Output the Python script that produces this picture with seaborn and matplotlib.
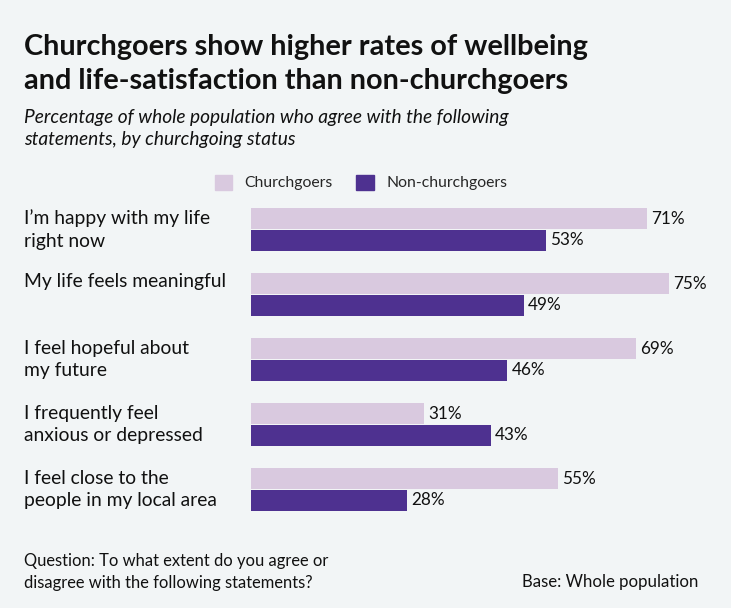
import pandas as pd
import matplotlib.pyplot as plt
import seaborn as sns
from matplotlib.transforms import blended_transform_factory

sns.set_theme(style="white")
plt.rcParams['font.family'] = ['Lato', 'DejaVu Sans']

# data
statements = [
    "I\u2019m happy with my life\nright now",
    "My life feels meaningful",
    "I feel hopeful about\nmy future",
    "I frequently feel\nanxious or depressed",
    "I feel close to the\npeople in my local area",
]
churchgoers = [71, 75, 69, 31, 55]
non_churchgoers = [53, 49, 46, 43, 28]
groups = ["Churchgoers", "Non-churchgoers"]

BG = "#f2f5f6"
LIGHT = "#d9c9df"
DARK = "#4e3190"

df = pd.DataFrame({
    "statement": statements * 2,
    "value": churchgoers + non_churchgoers,
    "group": [groups[0]] * len(statements) + [groups[1]] * len(statements),
})

fig = plt.figure(figsize=(7.31, 6.08), dpi=100, facecolor=BG)
ax = fig.add_axes([251 / 731, 86 / 608, 480 / 731, 325 / 608])
ax.set_facecolor(BG)

sns.barplot(data=df, y="statement", x="value", hue="group", orient="h",
            palette=[LIGHT, DARK], width=0.66, gap=0.03, legend=False,
            saturation=1, linewidth=0, ax=ax)

ax.set_xlim(0, 480 / 5.573)
ax.set_ylim(len(statements) - 0.5, -0.5)
ax.set_xlabel("")
ax.set_ylabel("")
ax.set_xticks([])
ax.set_yticks([])
for s in ax.spines.values():
    s.set_visible(False)

# value labels
for cont in ax.containers:
    ax.bar_label(cont, fmt="%d%%", padding=3, fontsize=12.3, color="#111111")

# category labels at left
tr = blended_transform_factory(fig.transFigure, ax.transData)
for i, lab in enumerate(statements):
    y = i if "\n" in lab else i - 0.2
    ax.text(24 / 731, y, lab, transform=tr, ha="left", va="center",
            fontsize=13.9, color="#111111", linespacing=1.38)

# title & subtitle
fig.text(24 / 731, 1 - 47 / 608, "Churchgoers show higher rates of wellbeing",
         fontsize=20.8, fontweight="bold", color="#111111", va="center")
fig.text(24 / 731, 1 - 81 / 608, "and life-satisfaction than non-churchgoers",
         fontsize=20.8, fontweight="bold", color="#111111", va="center")
fig.text(24 / 731, 1 - 128.5 / 608,
         "Percentage of whole population who agree with the following\nstatements, by churchgoing status",
         fontsize=13.8, style="italic", color="#111111", va="center", linespacing=1.4)

# legend
handles = [plt.Rectangle((0, 0), 1, 1, color=c) for c in (LIGHT, DARK)]
fig.legend(handles, groups, loc="center", bbox_to_anchor=(361 / 731, 1 - 182.5 / 608),
           ncol=2, frameon=False, fontsize=11.3, handlelength=1.1, handleheight=1.1,
           columnspacing=1.5, handletextpad=0.8)

# footer
fig.text(24 / 731, 1 - 572 / 608,
         "Question: To what extent do you agree or\ndisagree with the following statements?",
         fontsize=11.9, color="#111111", va="center", linespacing=1.5)
fig.text(698 / 731, 1 - 582 / 608, "Base: Whole population",
         fontsize=12.1, color="#111111", va="center", ha="right")

fig.savefig("out.png", dpi=100, facecolor=BG)
